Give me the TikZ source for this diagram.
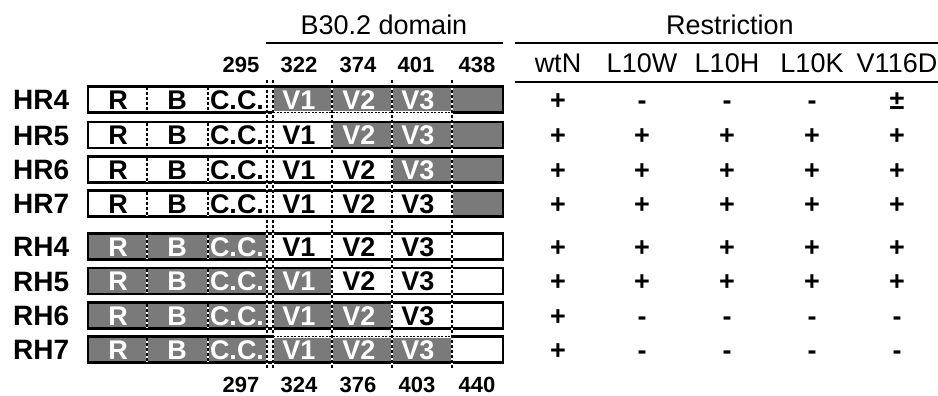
\documentclass[tikz,border=0pt]{standalone}
\usepackage{fontspec}
\setmainfont{Liberation Sans}
\definecolor{boxgrey}{RGB}{122,122,122}

\begin{document}
\begin{tikzpicture}[x=1pt,y=-1pt,
  lbl/.style={font=\fontsize{28}{30}\selectfont\bfseries,anchor=base west,inner sep=0pt,yshift=-10pt},
  num/.style={font=\fontsize{22}{24}\selectfont\bfseries,anchor=base,inner sep=0pt,yshift=-7.9pt},
  seg/.style={font=\fontsize{27}{28}\selectfont\bfseries,anchor=base,inner sep=0pt,yshift=-9.7pt},
  segw/.style={seg,text=white},
  colhead/.style={font=\fontsize{27}{30}\selectfont,anchor=base,inner sep=0pt,yshift=-9.7pt},
  sym/.style={font=\fontsize{27}{28}\selectfont\bfseries,anchor=base,inner sep=0pt,yshift=-9.7pt},
  bar/.style={draw,line width=2.3pt,minimum width=415pt,minimum height=26pt,inner sep=0pt},
  greybox/.style={fill=boxgrey},
  hline/.style={line width=1.8pt},
  divline/.style={line width=1.9pt,dash pattern=on 3pt off 2pt},
  divback/.style={white,line width=1.2pt},
]
\useasboundingbox (0,0) rectangle (938,396);
% Headings
\node[colhead] (dom) at (384,25) {B30.2 domain};
\node[colhead] (restr) at (730,25) {Restriction};
\draw[line width=2.8pt] (266,43)--(503,43);
\draw[hline] (515,43)--(938,43);
\draw[hline] (515,82)--(938,82);
% Column headings
\node[colhead] (wtn) at (558,63) {wtN};
\node[colhead] (l10w) at (642,63) {L10W};
\node[colhead] (l10h) at (727,63) {L10H};
\node[colhead] (l10k) at (812,63) {L10K};
\node[colhead] (v116d) at (897,63) {V116D};
% Residue numbers (top and bottom)
\node[num] (n295) at (241,65) {295};
\node[num] (n322) at (299,65) {322};
\node[num] (n374) at (358,65) {374};
\node[num] (n401) at (416,65) {401};
\node[num] (n438) at (477,65) {438};
\node[num] (n297) at (241,385) {297};
\node[num] (n324) at (299,385) {324};
\node[num] (n376) at (358,385) {376};
\node[num] (n403) at (417,385) {403};
\node[num] (n440) at (477,385) {440};
% Grey parts of the bars
\fill[greybox] (273,86.5) rectangle (503,112.5);
\fill[greybox] (332,122) rectangle (503,148);
\fill[greybox] (392,156.5) rectangle (503,182.5);
\fill[greybox] (452,190.5) rectangle (503,216.5);
\fill[greybox] (88,233.5) rectangle (267,259.5);
\fill[greybox] (88,268) rectangle (267,294) (273,268) rectangle (332,294);
\fill[greybox] (88,302.5) rectangle (267,328.5) (273,302.5) rectangle (392,328.5);
\fill[greybox] (88,336.5) rectangle (267,362.5) (273,336.5) rectangle (452,362.5);
% Bars
\node[bar] (hr4bar) at (295.5,99.5) {};
\node[bar] (hr5bar) at (295.5,135) {};
\node[bar] (hr6bar) at (295.5,169.5) {};
\node[bar] (hr7bar) at (295.5,203.5) {};
\node[bar] (rh4bar) at (295.5,246.5) {};
\node[bar] (rh5bar) at (295.5,281) {};
\node[bar] (rh6bar) at (295.5,315.5) {};
\node[bar] (rh7bar) at (295.5,349.5) {};
% Dotted edges under/over V1-V3
\draw[white,line width=2.6pt] (274,112.5)--(451,112.5) (274,336.5)--(451,336.5);
\draw[line width=1.8pt,dash pattern=on 2pt off 1.5pt] (273,112.5)--(452,112.5) (273,336.5)--(452,336.5);
% Dividers inside the bars
\foreach \c in {99.5,135,169.5,203.5,246.5,281,315.5,349.5}{
  \draw[divback] (147,\c-12)--(147,\c+12) (208,\c-12)--(208,\c+12);
  \draw[divline] (147,\c-12)--(147,\c+12) (208,\c-12)--(208,\c+12);
}
% Domain boundaries
\draw[divback] (267,80)--(267,368) (273,80)--(273,368) (332,80)--(332,368) (392,80)--(392,368) (452,80)--(452,368);
\draw[divline] (267,80)--(267,368) (273,80)--(273,368) (332,80)--(332,368) (392,80)--(392,368) (452,80)--(452,368);
% Row labels
\node[lbl] (hr4) at (13,99.5) {HR4};
\node[lbl] (hr5) at (13,135) {HR5};
\node[lbl] (hr6) at (13,169.5) {HR6};
\node[lbl] (hr7) at (13,203.5) {HR7};
\node[lbl] (rh4) at (13,246.5) {RH4};
\node[lbl] (rh5) at (13,281) {RH5};
\node[lbl] (rh6) at (13,315.5) {RH6};
\node[lbl] (rh7) at (13,349.5) {RH7};
% Segment names, HR
\node[seg] (hr4r) at (118,99.5) {R}; \node[seg] (hr4b) at (177,99.5) {B}; \node[seg] (hr4cc) at (237,99.5) {C.C.};
\node[segw] (hr4v1) at (299,99.5) {V1}; \node[segw] (hr4v2) at (359,99.5) {V2}; \node[segw] (hr4v3) at (418,99.5) {V3};
\node[seg] (hr5r) at (118,135) {R}; \node[seg] (hr5b) at (177,135) {B}; \node[seg] (hr5cc) at (237,135) {C.C.};
\node[seg] (hr5v1) at (299,135) {V1}; \node[segw] (hr5v2) at (359,135) {V2}; \node[segw] (hr5v3) at (418,135) {V3};
\node[seg] (hr6r) at (118,169.5) {R}; \node[seg] (hr6b) at (177,169.5) {B}; \node[seg] (hr6cc) at (237,169.5) {C.C.};
\node[seg] (hr6v1) at (299,169.5) {V1}; \node[seg] (hr6v2) at (359,169.5) {V2}; \node[segw] (hr6v3) at (418,169.5) {V3};
\node[seg] (hr7r) at (118,203.5) {R}; \node[seg] (hr7b) at (177,203.5) {B}; \node[seg] (hr7cc) at (237,203.5) {C.C.};
\node[seg] (hr7v1) at (299,203.5) {V1}; \node[seg] (hr7v2) at (359,203.5) {V2}; \node[seg] (hr7v3) at (418,203.5) {V3};
% Segment names, RH
\node[segw] (rh4r) at (118,246.5) {R}; \node[segw] (rh4b) at (177,246.5) {B}; \node[segw] (rh4cc) at (237,246.5) {C.C.};
\node[seg] (rh4v1) at (299,246.5) {V1}; \node[seg] (rh4v2) at (359,246.5) {V2}; \node[seg] (rh4v3) at (418,246.5) {V3};
\node[segw] (rh5r) at (118,281) {R}; \node[segw] (rh5b) at (177,281) {B}; \node[segw] (rh5cc) at (237,281) {C.C.};
\node[segw] (rh5v1) at (299,281) {V1}; \node[seg] (rh5v2) at (359,281) {V2}; \node[seg] (rh5v3) at (418,281) {V3};
\node[segw] (rh6r) at (118,315.5) {R}; \node[segw] (rh6b) at (177,315.5) {B}; \node[segw] (rh6cc) at (237,315.5) {C.C.};
\node[segw] (rh6v1) at (299,315.5) {V1}; \node[segw] (rh6v2) at (359,315.5) {V2}; \node[seg] (rh6v3) at (418,315.5) {V3};
\node[segw] (rh7r) at (118,349.5) {R}; \node[segw] (rh7b) at (177,349.5) {B}; \node[segw] (rh7cc) at (237,349.5) {C.C.};
\node[segw] (rh7v1) at (299,349.5) {V1}; \node[segw] (rh7v2) at (359,349.5) {V2}; \node[segw] (rh7v3) at (418,349.5) {V3};
% Restriction results
\node[sym] (hr4a) at (558,99.5) {+}; \node[sym] (hr4w) at (642,99.5) {-}; \node[sym] (hr4h) at (727,99.5) {-}; \node[sym] (hr4k) at (812,99.5) {-}; \node[sym] (hr4d) at (897,99.5) {±};
\node[sym] (hr5a) at (558,135) {+}; \node[sym] (hr5w) at (642,135) {+}; \node[sym] (hr5h) at (727,135) {+}; \node[sym] (hr5k) at (812,135) {+}; \node[sym] (hr5d) at (897,135) {+};
\node[sym] (hr6a) at (558,169.5) {+}; \node[sym] (hr6w) at (642,169.5) {+}; \node[sym] (hr6h) at (727,169.5) {+}; \node[sym] (hr6k) at (812,169.5) {+}; \node[sym] (hr6d) at (897,169.5) {+};
\node[sym] (hr7a) at (558,203.5) {+}; \node[sym] (hr7w) at (642,203.5) {+}; \node[sym] (hr7h) at (727,203.5) {+}; \node[sym] (hr7k) at (812,203.5) {+}; \node[sym] (hr7d) at (897,203.5) {+};
\node[sym] (rh4a) at (558,246.5) {+}; \node[sym] (rh4w) at (642,246.5) {+}; \node[sym] (rh4h) at (727,246.5) {+}; \node[sym] (rh4k) at (812,246.5) {+}; \node[sym] (rh4d) at (897,246.5) {+};
\node[sym] (rh5a) at (558,281) {+}; \node[sym] (rh5w) at (642,281) {+}; \node[sym] (rh5h) at (727,281) {+}; \node[sym] (rh5k) at (812,281) {+}; \node[sym] (rh5d) at (897,281) {+};
\node[sym] (rh6a) at (558,315.5) {+}; \node[sym] (rh6w) at (642,315.5) {-}; \node[sym] (rh6h) at (727,315.5) {-}; \node[sym] (rh6k) at (812,315.5) {-}; \node[sym] (rh6d) at (897,315.5) {-};
\node[sym] (rh7a) at (558,349.5) {+}; \node[sym] (rh7w) at (642,349.5) {-}; \node[sym] (rh7h) at (727,349.5) {-}; \node[sym] (rh7k) at (812,349.5) {-}; \node[sym] (rh7d) at (897,349.5) {-};
\end{tikzpicture}
\end{document}
